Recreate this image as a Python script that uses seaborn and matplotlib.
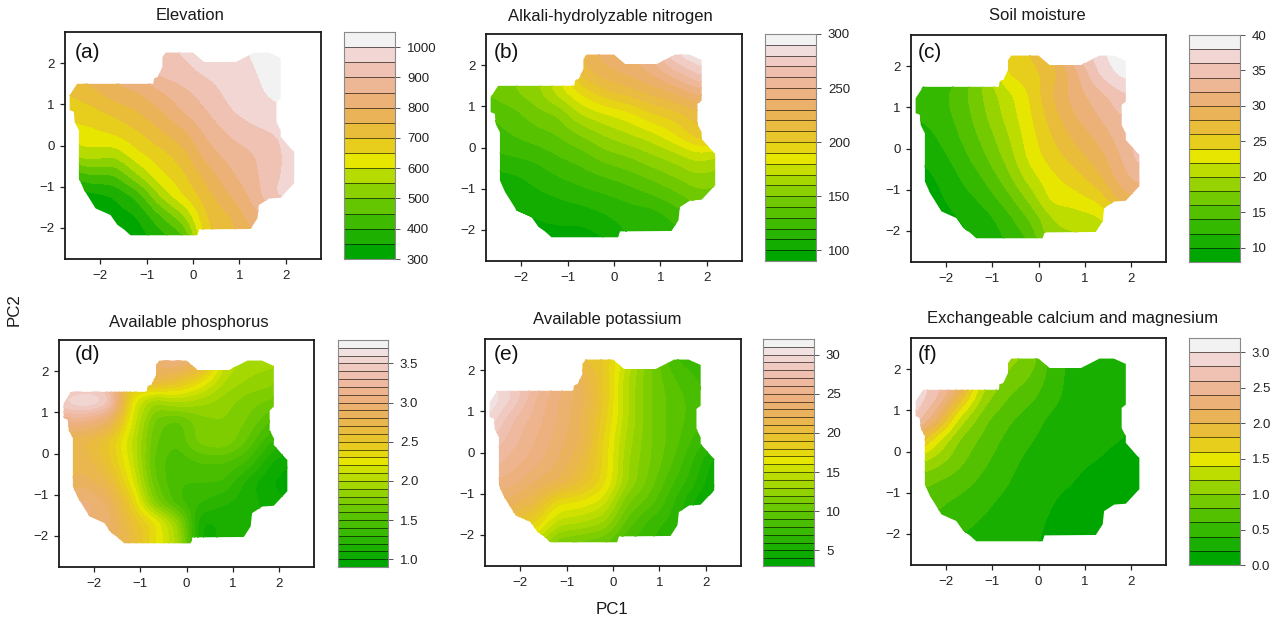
import colorsys
import numpy as np
import matplotlib
matplotlib.use("Agg")
import matplotlib.pyplot as plt
from matplotlib.colors import ListedColormap
from matplotlib.patches import Polygon
import seaborn as sns

sns.set_theme(style="ticks")
plt.rcParams["font.family"] = ["Liberation Sans", "DejaVu Sans"]

# Sampling positions
pc1 = [-2.7, -2.2, -1.7, -1.2, -0.7, -0.2, 0.3, 0.8, 1.3, 1.8, 2.2]
pc2 = [2.3, 1.8, 1.3, 0.8, 0.3, -0.2, -0.7, -1.2, -1.7, -2.2]

# Study-area outline
outline_pc1 = [-0.59, 0.0, 0.24, 0.92, 1.32, 1.63, 1.89, 1.89, 1.80, 1.80, 1.89, 1.89, 2.14, 2.18, 2.18,
               1.89, 1.64, 1.42, 1.39, 1.24, 0.13, 0.09, -1.35, -1.49, -1.63, -1.78, -2.10, -2.35, -2.46,
               -2.46, -2.55, -2.57, -2.66, -2.66, -2.5, -0.86, -0.84, -0.76, -0.66, -0.66]
outline_pc2 = [2.26, 2.26, 2.03, 2.03, 2.26, 2.26, 2.13, 1.14, 1.06, 0.57, 0.37, 0.21, -0.11, -0.15, -0.92,
               -1.27, -1.29, -1.45, -1.77, -2.03, -2.04, -2.18, -2.18, -2.04, -1.93, -1.69, -1.53, -1.08, -0.8,
               0.37, 0.57, 0.82, 0.86, 1.22, 1.5, 1.5, 1.63, 1.67, 1.91, 2.15]

elevation = [
    [800, 820, 840, 870, 940, 955, 985, 985, 1005, 1030, 1040],
    [770, 790, 820, 860, 915, 935, 960, 975, 995, 1025, 1040],
    [700, 730, 780, 795, 845, 885, 925, 965, 985, 1015, 1020],
    [670, 680, 710, 745, 790, 850, 895, 945, 970, 985, 990],
    [620, 635, 655, 690, 740, 785, 860, 905, 935, 950, 970],
    [570, 585, 565, 640, 680, 730, 825, 870, 895, 940, 970],
    [400, 455, 445, 550, 640, 690, 770, 840, 885, 945, 965],
    [310, 330, 350, 415, 560, 655, 730, 800, 865, 960, 960],
    [300, 310, 325, 345, 445, 540, 705, 745, 830, 880, 900],
    [300, 305, 315, 320, 375, 430, 690, 730, 790, 850, 880],
]
nitrogen = [
    [140, 145, 150, 170, 220, 235, 240, 250, 280, 292, 295],
    [145, 150, 155, 180, 215, 225, 232, 240, 255, 270, 280],
    [140, 148, 155, 172, 190, 205, 212, 220, 228, 240, 245],
    [130, 135, 145, 150, 170, 178, 185, 198, 205, 215, 220],
    [125, 130, 135, 140, 150, 160, 168, 175, 188, 205, 210],
    [118, 120, 123, 130, 135, 145, 150, 158, 165, 175, 170],
    [106, 108, 113, 120, 125, 130, 135, 142, 150, 158, 155],
    [100, 102, 107, 110, 114, 118, 122, 128, 135, 145, 145],
    [95, 98, 100, 103, 103, 108, 114, 112, 122, 130, 130],
    [90, 92, 95, 95, 95, 99, 110, 112, 115, 120, 120],
]
moisture = [
    [12, 13, 15, 18, 25, 26, 28, 34, 37, 40, 40],
    [11, 12, 14, 18, 24, 25, 27, 31, 36, 38.5, 39],
    [12, 13, 15, 18, 21, 24, 28, 31, 33, 35.5, 36],
    [12, 13, 14.5, 17.5, 20.5, 23.5, 27, 30, 32, 34, 35],
    [10.5, 12, 14, 16.5, 19.5, 23, 26, 28.5, 30.5, 33, 35],
    [10, 11, 13, 15.5, 18.5, 22.5, 25, 27, 29, 32, 35],
    [9, 10, 12, 14, 17, 21, 23.5, 25, 27.5, 31, 33],
    [8.5, 9.5, 11, 12.5, 15, 18.5, 22.8, 23.2, 24.5, 29, 30],
    [8.5, 9, 10, 11, 13, 16, 20, 20.8, 21.5, 24, 26],
    [8, 8.5, 9.5, 10.5, 12, 14, 19.5, 19.5, 20.5, 22, 24],
]
phosphorus = [
    [1.7, 1.8, 2.0, 2.2, 3.0, 3.1, 2.9, 2.1, 1.95, 1.95, 1.9],
    [3.0, 3.1, 3.1, 2.6, 2.8, 2.6, 2.35, 2.0, 1.9, 1.85, 1.8],
    [3.55, 3.7, 3.55, 2.25, 1.9, 2.05, 1.95, 1.85, 1.75, 1.7, 1.6],
    [3.1, 3.1, 2.9, 2.2, 1.65, 1.55, 1.75, 1.8, 1.7, 1.5, 1.4],
    [2.7, 2.7, 2.5, 2.1, 1.6, 1.5, 1.75, 1.8, 1.6, 1.3, 1.2],
    [2.7, 2.75, 2.55, 2.15, 1.55, 1.42, 1.5, 1.5, 1.4, 1.1, 1.0],
    [2.8, 2.85, 2.7, 2.25, 1.6, 1.4, 1.4, 1.4, 1.15, 1.0, 0.95],
    [3.0, 3.05, 2.9, 2.45, 1.75, 1.4, 1.3, 1.2, 1.15, 1.05, 1.0],
    [3.0, 3.0, 2.95, 2.6, 2.35, 1.9, 1.05, 1.12, 1.15, 1.1, 1.0],
    [2.9, 2.9, 2.9, 2.7, 2.3, 2.0, 1.05, 1.12, 1.15, 1.1, 1.0],
]
potassium = [
    [22, 22, 22, 21, 20, 19, 15, 11, 8, 7, 6],
    [30, 29, 27, 25, 22, 19, 14, 11, 9, 8, 7],
    [31, 29, 26, 24, 22.5, 19, 14, 11, 9.5, 8.5, 7.5],
    [30, 27, 25.5, 24, 22, 18.5, 14, 11, 9.5, 8.5, 7.5],
    [28, 26.5, 25, 23.5, 22, 17.8, 13.5, 11, 9.5, 7.5, 6.5],
    [27, 25.5, 24.5, 23, 21, 17.8, 13, 11, 9, 6.5, 4.5],
    [25, 24.5, 23, 22, 20, 17.5, 13, 10.5, 8, 6, 3.8],
    [23, 22.5, 21, 17.2, 16.8, 15.5, 11, 9.5, 7, 4.5, 3.5],
    [21, 20, 18, 14.5, 14, 13, 9.5, 7.5, 6.5, 5, 4.5],
    [20, 18, 15, 11, 10.5, 10, 8, 7, 6, 5, 4.5],
]
calcium_magnesium = [
    [2.8, 2.7, 2.5, 1.3, 1.1, 0.95, 0.5, 0.3, 0.3, 0.25, 0.2],
    [2.9, 2.8, 2.4, 1.3, 0.95, 0.8, 0.5, 0.3, 0.3, 0.25, 0.2],
    [3.0, 2.6, 1.9, 1.1, 0.8, 0.65, 0.45, 0.3, 0.25, 0.25, 0.2],
    [2.8, 2.2, 1.3, 0.85, 0.65, 0.5, 0.35, 0.28, 0.25, 0.22, 0.2],
    [2.1, 1.45, 0.95, 0.75, 0.55, 0.42, 0.3, 0.24, 0.22, 0.2, 0.18],
    [1.3, 1.1, 0.85, 0.65, 0.47, 0.35, 0.28, 0.22, 0.2, 0.17, 0.15],
    [0.9, 0.8, 0.7, 0.55, 0.42, 0.3, 0.22, 0.2, 0.16, 0.13, 0.1],
    [0.75, 0.65, 0.55, 0.45, 0.35, 0.28, 0.2, 0.18, 0.12, 0.1, 0.08],
    [0.65, 0.55, 0.45, 0.38, 0.3, 0.24, 0.18, 0.14, 0.1, 0.08, 0.06],
    [0.55, 0.45, 0.38, 0.32, 0.27, 0.22, 0.17, 0.1, 0.08, 0.06, 0.05],
]

titles = ["Elevation", "Alkali-hydrolyzable nitrogen", "Soil moisture",
          "Available phosphorus", "Available potassium", "Exchangeable calcium and magnesium"]
panel_labels = ["(a)", "(b)", "(c)", "(d)", "(e)", "(f)"]
grids = [elevation, nitrogen, moisture, phosphorus, potassium, calcium_magnesium]

# lowest level, highest level, level step
level_low = [300, 90, 8, 0.9, 3, 0.0]
level_high = [1050, 300, 40, 3.8, 32, 3.2]
level_step = [50, 10, 2, 0.1, 1, 0.2]
key_ticks = [[300, 400, 500, 600, 700, 800, 900, 1000],
             [100, 150, 200, 250, 300],
             [10, 15, 20, 25, 30, 35, 40],
             [1.0, 1.5, 2.0, 2.5, 3.0, 3.5],
             [5, 10, 15, 20, 25, 30],
             [0.0, 0.5, 1.0, 1.5, 2.0, 2.5, 3.0]]
key_tick_labels = [[str(t) for t in key_ticks[0]], [str(t) for t in key_ticks[1]], [str(t) for t in key_ticks[2]],
                   [f"{t:.1f}" for t in key_ticks[3]], [str(t) for t in key_ticks[4]],
                   [f"{t:.1f}" for t in key_ticks[5]]]
axis_ticks = [-2, -1, 0, 1, 2]

W, H = 1282, 623
# layout in pixels: map left, right, top, bottom, key left, key right, title centre x, title y, label x, label y
layout = [
    (65, 321, 32, 259, 344, 395, 190, 16, 75, 53),
    (486, 742, 34, 261, 765, 816, 610, 16, 494, 52),
    (911, 1166, 35, 262, 1189, 1240, 1037, 16, 918, 53),
    (59, 314, 340, 567, 338, 388, 189, 323, 75, 355),
    (485, 741, 339, 566, 763, 814, 607, 320, 494, 355),
    (911, 1166, 338, 565, 1189, 1240, 1073, 318, 918, 355),
]


def terrain_colors(n):
    """R's terrain.colors palette."""
    k = n // 2
    cols = []
    for i in range(k):
        f = i / (k - 1)
        cols.append(colorsys.hsv_to_rgb((4 / 12) + f * (2 / 12 - 4 / 12), 1.0, 0.65 + f * 0.25))
    m = n - k + 1
    for i in range(1, m):
        f = i / (m - 1)
        cols.append(colorsys.hsv_to_rgb((2 / 12) * (1 - f), 1 - f, 0.9 + f * 0.05))
    return cols


def gaussian_1d(a, sigma, axis):
    r = int(3 * sigma)
    x = np.arange(-r, r + 1)
    w = np.exp(-0.5 * (x / sigma) ** 2)
    w /= w.sum()
    a = np.moveaxis(a, axis, -1)
    p = np.pad(a, [(0, 0), (r, r)], mode="edge")
    out = np.apply_along_axis(lambda v: np.convolve(v, w, mode="valid"), -1, p)
    return np.moveaxis(out, -1, axis)


def refine(z):
    """Resample the coarse readings on a fine mesh so the bands have smooth edges."""
    x = np.asarray(pc1)
    y = np.asarray(pc2)[::-1]
    z = np.asarray(z, float)[::-1]
    fx = np.linspace(x[0], x[-1], 246)
    fy = np.linspace(y[0], y[-1], 226)
    a = np.array([np.interp(fx, x, row) for row in z])
    b = np.array([np.interp(fy, y, col) for col in a.T]).T
    b = gaussian_1d(gaussian_1d(b, 6, 0), 6, 1)
    return fx, fy, b


fig = plt.figure(figsize=(W / 100, H / 100), dpi=100, facecolor="white")


def px_axes(left, right, top, bottom):
    return fig.add_axes([left / W, 1 - bottom / H, (right - left) / W, (bottom - top) / H])


for i, grid in enumerate(grids):
    l, r, t, b, kl, kr, tx, ty, lx, ly = layout[i]
    n = int(round((level_high[i] - level_low[i]) / level_step[i]))
    levels = level_low[i] + np.arange(n + 1) * level_step[i]
    colors = terrain_colors(n)

    ax = px_axes(l, r, t, b)
    ax.set_facecolor("white")
    fx, fy, fz = refine(grid)
    cs = ax.contourf(fx, fy, np.clip(fz, levels[0], levels[-1] - 1e-6), levels=levels, colors=colors)
    cs.set_edgecolor("face")
    cs.set_linewidth(0.3)
    shape = Polygon(np.column_stack([outline_pc1, outline_pc2]), closed=True, fc="none", ec="none")
    ax.add_patch(shape)
    cs.set_clip_path(shape)
    ax.set_xlim(-2.76, 2.76)
    ax.set_ylim(-2.76, 2.76)
    ax.set_xticks(axis_ticks)
    ax.set_yticks(axis_ticks)
    ax.tick_params(length=3.6, width=0.9, labelsize=9.5, color="#222222", labelcolor="#222222", pad=4)
    for s in ax.spines.values():
        s.set_linewidth(1.3)
        s.set_color("#1a1a1a")
    fig.text(lx / W, 1 - ly / H, panel_labels[i], fontsize=15, ha="left", va="center", color="#111111")
    fig.text(tx / W, 1 - ty / H, titles[i], fontsize=12, ha="center", va="center", color="#1a1a1a")

    # Colour key
    key = px_axes(kl, kr, t, b)
    mids = ((levels[:-1] + levels[1:]) / 2)[::-1].reshape(-1, 1)
    sns.heatmap(mids, cmap=ListedColormap(colors), vmin=levels[0], vmax=levels[-1], cbar=False,
                xticklabels=False, yticklabels=False, ax=key)
    key.hlines(np.arange(1, n), 0, 1, colors=[(0, 0, 0, 0.6)], linewidth=0.7)
    ticks = np.asarray(key_ticks[i], float)
    key.set_yticks((level_high[i] - ticks) / level_step[i])
    key.set_yticklabels(key_tick_labels[i], rotation=0)
    key.tick_params(axis="y", left=False, right=True, labelleft=False, labelright=True,
                    length=3.6, width=0.7, color="#555555", labelsize=9.5, labelcolor="#222222", pad=5)
    key.tick_params(axis="x", bottom=False, labelbottom=False)
    for s in key.spines.values():
        s.set_visible(True)
        s.set_color("#8a8a8a")
        s.set_linewidth(0.8)

fig.text(612 / W, 1 - 610 / H, "PC1", fontsize=12.2, ha="center", va="center", color="#1a1a1a")
fig.text(14 / W, 1 - 310 / H, "PC2", fontsize=12.2, ha="center", va="center", rotation=90, color="#1a1a1a")

fig.savefig("out.png", dpi=100, facecolor="white")
